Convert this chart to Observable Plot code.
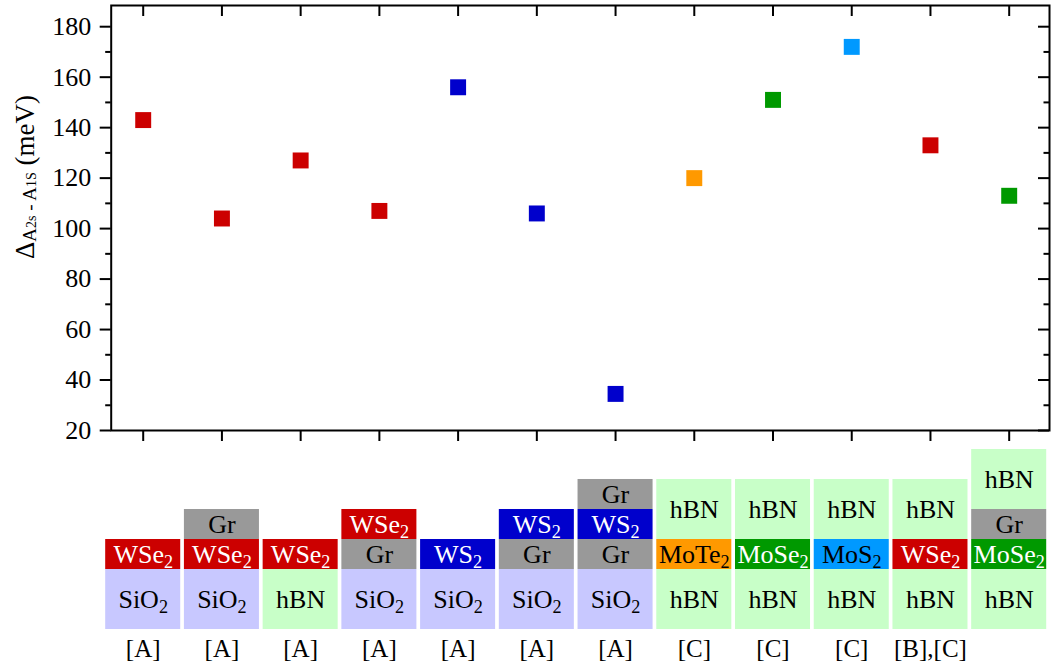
<!DOCTYPE html>
<html>
<head>
<meta charset="utf-8">
<script src="https://cdn.jsdelivr.net/npm/d3@7"></script>
<script src="https://cdn.jsdelivr.net/npm/@observablehq/plot@0.6"></script>
<style>
  html, body { margin: 0; padding: 0; background: #fff; }
  #chart svg { display: block; }
</style>
</head>
<body>
<div id="chart"></div>
<script>
// Sample index (one column per heterostructure)
const samples = [1, 2, 3, 4, 5, 6, 7, 8, 9, 10, 11, 12];

// Active TMD monolayer of each sample
const tmd = ["WSe2", "WSe2", "WSe2", "WSe2", "WS2", "WS2", "WS2", "MoTe2", "MoSe2", "MoS2", "WSe2", "MoSe2"];

// Energy separation between the 2s and 1s A-exciton states (meV)
const delta = [143, 104, 127, 107, 156, 106, 34.5, 120, 151, 172, 133, 113];

// Layer sequence of each sample, listed from the substrate upwards
const stacks = [
  ["SiO2", "WSe2"],
  ["SiO2", "WSe2", "Gr"],
  ["hBN", "WSe2"],
  ["SiO2", "Gr", "WSe2"],
  ["SiO2", "WS2"],
  ["SiO2", "Gr", "WS2"],
  ["SiO2", "Gr", "WS2", "Gr"],
  ["hBN", "MoTe2", "hBN"],
  ["hBN", "MoSe2", "hBN"],
  ["hBN", "MoS2", "hBN"],
  ["hBN", "WSe2", "hBN"],
  ["hBN", "MoSe2", "Gr", "hBN"]
];

// Literature source of each sample
const references = ["[A]", "[A]", "[A]", "[A]", "[A]", "[A]", "[A]", "[C]", "[C]", "[C]", "[B],[C]", ""];

// Y-axis ticks
const majorTicks = [20, 40, 60, 80, 100, 120, 140, 160, 180];
const minorTicks = [30, 50, 70, 90, 110, 130, 150, 170];

// Material palette
const materialColors = {
  SiO2: "#c8c8ff",
  hBN: "#c8ffc8",
  Gr: "#999999",
  WSe2: "#cc0000",
  WS2: "#0000cc",
  MoTe2: "#ff9900",
  MoSe2: "#009900",
  MoS2: "#0099ff"
};
const whiteText = new Set(["WSe2", "WS2", "MoSe2"]);
const thickLayers = new Set(["SiO2", "hBN"]);

// ---- Layout constants ----
const W = 1051;
const scatterH = 445;
const stackH = 224;
const mLeft = 110.7;
const mRight = 2;
const xDomain = [0.5935, 12.512];
const font = "Liberation Serif";
const halfCol = 0.4765;   // half width of a layer column, in sample units

// ---- Derived tables ----
const points = samples.map((s, i) => ({
  sample: s,
  delta: delta[i],
  color: materialColors[tmd[i]]
}));

const layers = [];
stacks.forEach((stack, i) => {
  let base = 0;
  stack.forEach(name => {
    const t = thickLayers.has(name) ? 2 : 1;
    layers.push({
      sample: samples[i],
      name,
      y1: base,
      y2: base + t,
      fill: materialColors[name],
      ink: whiteText.has(name) ? "white" : "black"
    });
    base += t;
  });
});

const refs = samples
  .map((s, i) => ({sample: s, ref: references[i]}))
  .filter(d => d.ref);

// ---- Scatter panel ----
const plotW = W - mLeft - mRight;
const plotH = scatterH - 5 - 15;

const scatterChart = Plot.plot({
  width: W,
  height: scatterH,
  marginLeft: mLeft,
  marginRight: mRight,
  marginTop: 5,
  marginBottom: 15,
  x: {domain: xDomain, axis: null},
  y: {domain: [20, 188.4], axis: null},
  color: {type: "identity"},
  style: {fontFamily: font, fontSize: "26px", background: "white", color: "black", overflow: "visible"},
  marks: [
    Plot.axisY(majorTicks, {anchor: "left", tickSize: 11, tickPadding: 9, strokeWidth: 2, label: null, fill: "black", fontFamily: font}),
    Plot.axisY(minorTicks, {anchor: "left", tickSize: 5.5, strokeWidth: 2, label: null, tickFormat: () => ""}),
    Plot.tickY(majorTicks, {y: d => d, insetLeft: plotW - 11, stroke: "black", strokeWidth: 2}),
    Plot.tickY(minorTicks, {y: d => d, insetLeft: plotW - 5.5, stroke: "black", strokeWidth: 2}),
    Plot.axisX(samples, {anchor: "bottom", tickSize: 11, strokeWidth: 2, label: null, tickFormat: () => ""}),
    Plot.tickX(samples, {x: d => d, insetBottom: plotH - 11, stroke: "black", strokeWidth: 2}),
    Plot.frame({stroke: "black", strokeWidth: 2}),
    Plot.dot(points, {x: "sample", y: "delta", symbol: "square", r: 9, fill: "color", stroke: null})
  ]
});

// Y-axis title with subscripted exciton states
const yTitle = d3.select(scatterChart).append("text")
  .attr("transform", "translate(25,177) rotate(-90)")
  .attr("text-anchor", "middle")
  .attr("dy", "0.35em")
  .attr("fill", "black")
  .attr("font-family", font);
yTitle.append("tspan").attr("font-size", 27).text("Δ");
yTitle.append("tspan").attr("font-size", 19).attr("dy", 2).text("A");
yTitle.append("tspan").attr("font-size", 14).text("2s");
yTitle.append("tspan").attr("font-size", 19).text(" - A");
yTitle.append("tspan").attr("font-size", 14).text("1S");
yTitle.append("tspan").attr("font-size", 27).attr("dy", -2).text(" (meV)");

// ---- Layer-stack panel ----
const stackChart = Plot.plot({
  width: W,
  height: stackH,
  marginLeft: mLeft,
  marginRight: mRight,
  marginTop: 0,
  marginBottom: 0,
  x: {domain: xDomain, axis: null},
  y: {domain: [-1.333, 6.133], axis: null},
  color: {type: "identity"},
  style: {fontFamily: font, fontSize: "26px", background: "white", color: "black", overflow: "visible"},
  marks: [
    Plot.rect(layers, {
      x1: d => d.sample - halfCol,
      x2: d => d.sample + halfCol,
      y1: "y1",
      y2: "y2",
      fill: "fill"
    }),
    Plot.text(layers, {
      x: "sample",
      y: d => (d.y1 + d.y2) / 2,
      text: "name",
      fill: "ink",
      fontSize: 26,
      fontFamily: font
    }),
    Plot.text(refs, {
      x: "sample",
      frameAnchor: "bottom",
      lineAnchor: "middle",
      dy: -21,
      text: "ref",
      fill: "black",
      fontSize: 25,
      fontFamily: font
    })
  ]
});

// Chemical formulas: set the trailing atom count as a subscript
d3.select(stackChart).selectAll("text").each(function () {
  const t = this.textContent;
  const m = t.match(/^([A-Za-z]*[a-zA-Z])(\d)$/);
  if (!m) return;
  const el = d3.select(this);
  el.text(null);
  el.append("tspan").text(m[1]);
  el.append("tspan").attr("dy", "0.3em").attr("font-size", "0.7em").text(m[2]);
});

document.getElementById("chart").append(scatterChart, stackChart);
</script>
</body>
</html>
